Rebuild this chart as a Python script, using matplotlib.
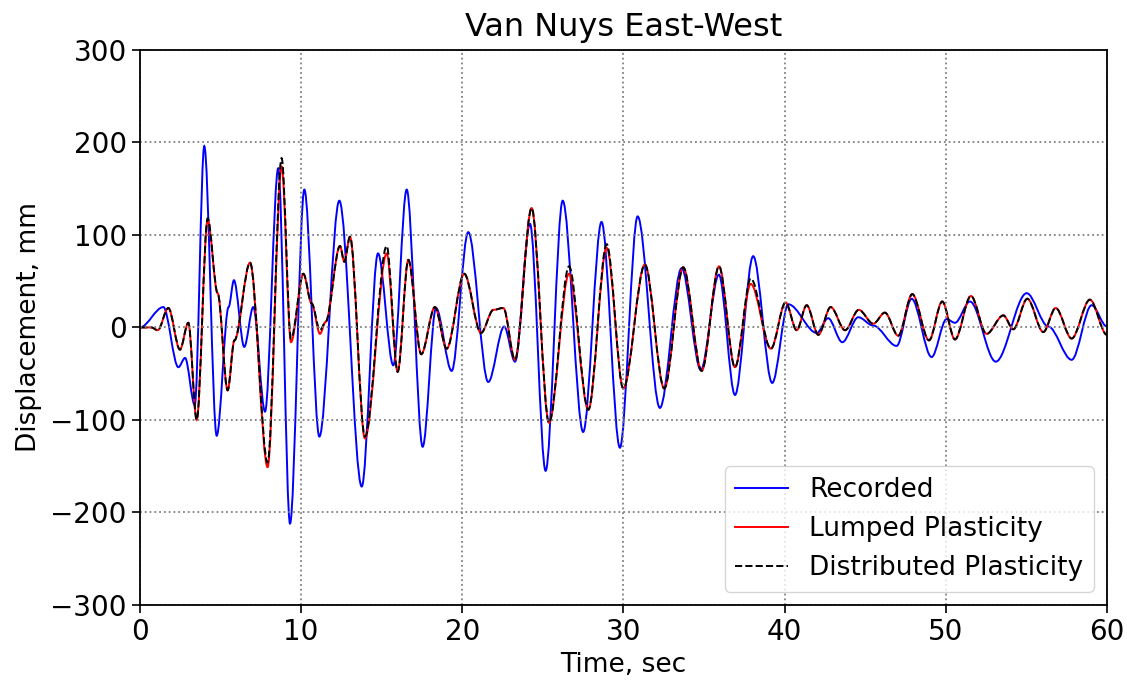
import matplotlib
matplotlib.use("Agg")
import matplotlib.pyplot as plt
from matplotlib.path import Path
from matplotlib.patches import PathPatch
from matplotlib.lines import Line2D

# turning points of each displacement history (time in s, displacement in mm)
rec_t = [0.0, 1.45, 2.38, 2.8, 3.4, 3.99, 4.76, 5.5, 5.83, 6.47, 7.03, 7.76, 8.58, 9.31,
         10.2, 11.13, 12.37, 13.76, 14.77, 15.72, 16.55, 17.54, 18.37, 19.34, 20.37, 21.61,
         22.6, 23.27, 24.2, 25.17, 26.23, 27.5, 28.64, 29.78, 30.88, 32.26, 33.61, 34.8,
         35.92, 36.92, 38.05, 39.23, 40.23, 42.0, 42.7, 43.58, 44.57, 45.5, 46.95, 47.88,
         49.12, 50.05, 50.57, 51.5, 53.1, 55.02, 56.36, 57.81, 59.05, 60.0]
rec_v = [0, 22, -43, -33, -84, 196, -117, 22, 51, -21, 22, -91, 172, -212,
         149, -118, 137, -172, 80, -41, 149, -129, 21, -47, 103, -59,
         1, -37, 112, -155, 137, -113, 114, -130, 120, -87, 64, -46,
         57, -73, 77, -60, 25, -6, 10, -16, 11, 2, -20, 31,
         -32, 9, 5, 28, -37, 37, 1, -35, 24, 1]

sim_t = [0.0, 0.7, 1.1, 1.76, 2.48, 3.0, 3.52, 4.2, 4.82, 5.44, 5.86, 6.83, 7.92, 8.79,
         9.37, 10.14, 10.65, 11.17, 11.52, 12.41, 12.68, 13.03, 13.96, 15.31, 15.99, 16.65,
         17.45, 18.3, 19.03, 20.12, 21.16, 21.93, 22.55, 23.27, 24.3, 25.38, 26.62, 27.82,
         28.96, 29.99, 31.33, 32.53, 33.71, 34.85, 35.93, 36.92, 37.9, 39.15, 40.06, 40.75,
         41.37, 42.09, 42.86, 43.75, 44.6, 45.5, 46.22, 47.05, 47.92, 48.96, 49.78, 50.57,
         51.56, 52.53, 53.57, 54.19, 55.06, 56.05, 56.82, 57.81, 58.94, 60.0]
lumped_v = [0, 0, -3, 21, -24, 5, -100, 116, 37, -68, -14, 70, -151, 174,
            -16, 58, 26, -7, 6, 88, 71, 98, -120, 80, -48, 73,
            -29, 22, -23, 58, -6, 19, 21, -35, 129, -103, 58, -89,
            86, -66, 68, -66, 65, -47, 66, -43, 47, -23, 27, -3,
            24, -8, 22, -3, 19, 4, 16, -9, 36, -14, 28, -13,
            34, -7, 13, -2, 31, -5, 21, -12, 30, -8]
distributed_v = [0, 0, -3, 21, -24, 5, -100, 118, 37, -68, -14, 70, -146, 183,
                 -12, 58, 26, -3, 6, 88, 71, 98, -118, 88, -48, 73,
                 -29, 22, -23, 58, -6, 19, 21, -35, 129, -103, 66, -89,
                 90, -66, 68, -66, 65, -47, 66, -43, 53, -23, 27, -3,
                 24, -8, 22, -3, 19, 4, 16, -9, 36, -14, 28, -13,
                 34, -7, 13, -2, 31, -5, 21, -12, 30, -8]


def smooth_path(t, v):
    # cubic segments with flat tangents at every turning point
    verts = [(t[0], v[0])]
    codes = [Path.MOVETO]
    for i in range(1, len(t)):
        dt = (t[i] - t[i - 1]) / 3.0
        verts += [(t[i - 1] + dt, v[i - 1]), (t[i] - dt, v[i]), (t[i], v[i])]
        codes += [Path.CURVE4] * 3
    return Path(verts, codes)


fig = plt.figure(figsize=(11.27, 6.87), dpi=100)
ax = fig.add_axes([0.1242, 0.1194, 0.858, 0.808])

series = [
    (rec_t, rec_v, "blue", "-", "Recorded"),
    (sim_t, lumped_v, "red", "-", "Lumped Plasticity"),
    (sim_t, distributed_v, "black", "--", "Distributed Plasticity"),
]
handles = []
for t, v, col, ls, lab in series:
    ax.add_patch(PathPatch(smooth_path(t, v), fill=False, edgecolor=col,
                           linestyle=ls, lw=1.4))
    handles.append(Line2D([], [], color=col, linestyle=ls, lw=1.4, label=lab))

ax.set_xlim(0, 60)
ax.set_ylim(-300, 300)
ax.set_xticks(range(0, 61, 10))
ax.set_yticks(range(-300, 301, 100))
ax.tick_params(labelsize=20, width=1.2, length=6)
ax.grid(True, linestyle=":", color="gray", lw=1.3)
for s in ax.spines.values():
    s.set_linewidth(1.3)

ax.set_title("Van Nuys East-West", fontsize=23, pad=10)
ax.set_xlabel("Time, sec", fontsize=19, labelpad=4)
ax.set_ylabel("Displacement, mm", fontsize=19, labelpad=6)
ax.legend(handles=handles, loc="lower right", fontsize=19)

fig.savefig("out.png", dpi=100)
